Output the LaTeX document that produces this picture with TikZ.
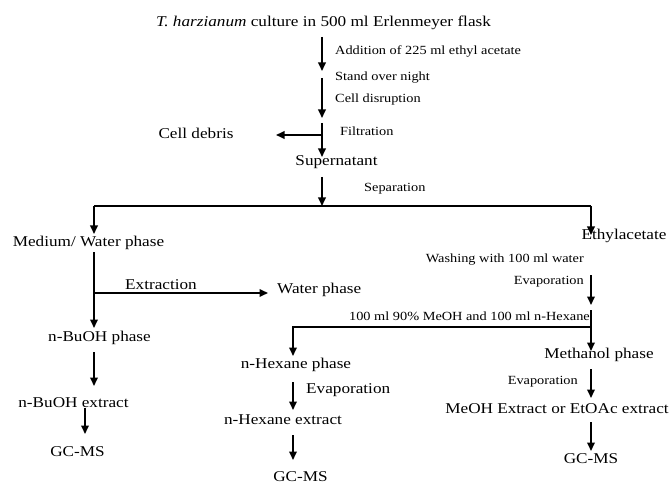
\documentclass[tikz,border=0pt]{standalone}
\usepackage{fontspec}
\setmainfont{Liberation Serif}[FakeStretch=1.15]
\usetikzlibrary{arrows.meta}
\begin{document}
\begin{tikzpicture}[x=1bp,y=-1bp,
  big/.style={inner sep=0pt,font=\fontsize{15}{18}\selectfont},
  small/.style={inner sep=0pt,font=\fontsize{12.5}{15}\selectfont},
  ln/.style={line width=1.8bp},
  arr/.style={line width=1.8bp,-{Triangle[width=7.5bp,length=8.5bp]}}]
\useasboundingbox[fill=white] (0,0) rectangle (670,484);
% nodes
\node[big] (title) at (323.5,23) {\textit{T. harzianum} culture in 500 ml Erlenmeyer flask};
\node[small,anchor=west] (add) at (335,51) {Addition of 225 ml ethyl acetate};
\node[small,anchor=west] (stand) at (335,78) {Stand over night};
\node[small,anchor=west] (cell) at (335,100) {Cell disruption};
\node[small,anchor=west] (filt) at (340,131) {Filtration};
\node[big] (debris) at (196,133) {Cell debris};
\node[big] (super) at (336.5,162) {Supernatant};
\node[small,anchor=west] (sep) at (364,189) {Separation};
\node[big] (medium) at (88.5,243) {Medium/ Water phase};
\node[big] (ethyl) at (624,236) {Ethylacetate};
\node[big] (extr) at (161,285) {Extraction};
\node[big,anchor=west] (water) at (277,290) {Water phase};
\node[big] (buph) at (99.5,338) {n-BuOH phase};
\node[big] (buex) at (73.5,403) {n-BuOH extract};
\node[big] (gc1) at (77.5,452) {GC-MS};
\node[small,anchor=east] (wash) at (584,260) {Washing with 100 ml water};
\node[small,anchor=east] (evap1) at (584,282) {Evaporation};
\node[small,anchor=east] (meoh) at (590,316) {100 ml 90\% MeOH and 100 ml n-Hexane};
\node[big] (meph) at (599,355) {Methanol phase};
\node[small,anchor=east] (evap2) at (578,382) {Evaporation};
\node[big] (meex) at (557,409) {MeOH Extract or EtOAc extract};
\node[big] (gc3) at (591,459) {GC-MS};
\node[big] (hxph) at (296,365) {n-Hexane phase};
\node[big,anchor=west] (evap3) at (306,390) {Evaporation};
\node[big] (hxex) at (283,420) {n-Hexane extract};
\node[big] (gc2) at (300.5,477) {GC-MS};
% coordinates
\coordinate (a1s) at (322,37); \coordinate (a1e) at (322,71);
\coordinate (a2s) at (322,78); \coordinate (a2e) at (322,118);
\coordinate (a3s) at (322,123); \coordinate (a3e) at (322,157);
\coordinate (a3b) at (322,135); \coordinate (a3l) at (276,135);
\coordinate (a4s) at (322,177); \coordinate (a4e) at (322,206);
\coordinate (hl) at (94,206); \coordinate (hr) at (591,206);
\coordinate (hle) at (94,234); \coordinate (hre) at (591,235);
\coordinate (ms) at (94,252); \coordinate (me) at (94,328);
\coordinate (mb) at (94,293); \coordinate (mw) at (268,293);
\coordinate (b1s) at (94,352); \coordinate (b1e) at (94,386);
\coordinate (b2s) at (85,408); \coordinate (b2e) at (85,434);
\coordinate (r1s) at (591,275); \coordinate (r1e) at (591,305);
\coordinate (r2s) at (591,310); \coordinate (r2e) at (591,351);
\coordinate (rb) at (591,327); \coordinate (rl) at (293,327); \coordinate (rle) at (293,356);
\coordinate (r3s) at (591,369); \coordinate (r3e) at (591,398);
\coordinate (r4s) at (591,422); \coordinate (r4e) at (591,451);
\coordinate (h1s) at (293,382); \coordinate (h1e) at (293,410);
\coordinate (h2s) at (293,435); \coordinate (h2e) at (293,460);
% connectors
\draw[arr] (a1s) -- (a1e);
\draw[arr] (a2s) -- (a2e);
\draw[arr] (a3s) -- (a3e);
\draw[arr] (a3b) -- (a3l);
\draw[arr] (a4s) -- (a4e);
\draw[ln] (hl) -- (hr);
\draw[arr] (hl) -- (hle);
\draw[arr] (hr) -- (hre);
\draw[arr] (ms) -- (me);
\draw[arr] (mb) -- (mw);
\draw[arr] (b1s) -- (b1e);
\draw[arr] (b2s) -- (b2e);
\draw[arr] (r1s) -- (r1e);
\draw[arr] (r2s) -- (r2e);
\draw[arr] (rb) -- (rl) -- (rle);
\draw[arr] (r3s) -- (r3e);
\draw[arr] (r4s) -- (r4e);
\draw[arr] (h1s) -- (h1e);
\draw[arr] (h2s) -- (h2e);
\end{tikzpicture}
\end{document}
